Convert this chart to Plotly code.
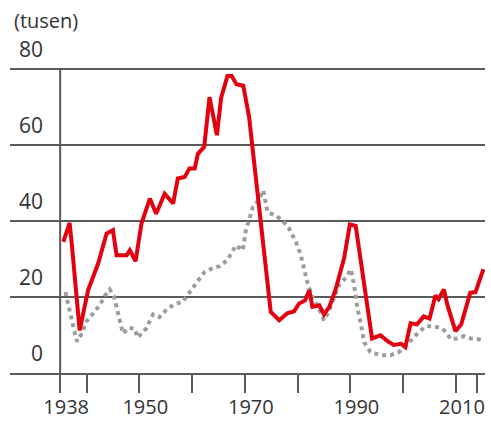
import plotly.graph_objects as go

# Red series (solid)
red_years = [1935.6, 1936.8, 1937.2, 1938.7, 1940.3, 1942.2, 1943.8, 1945.0, 1945.7, 1947.6,
             1948.2, 1949.3, 1950.4, 1952.0, 1953.2, 1954.8, 1956.4, 1957.3, 1958.6, 1959.5,
             1960.5, 1961.1, 1962.3, 1963.3, 1964.7, 1965.5, 1966.7, 1967.5, 1968.4, 1969.7,
             1970.8, 1974.9, 1976.5, 1978.1, 1979.3, 1980.3, 1981.4, 1982.2, 1982.8, 1984.1,
             1985.0, 1986.0, 1987.2, 1988.8, 1989.9, 1991.0, 1994.1, 1995.7, 1997.1, 1998.2,
             1999.6, 2000.4, 2001.4, 2002.6, 2003.9, 2005.0, 2006.1, 2006.7, 2007.7, 2008.4,
             2009.9, 2011.0, 2012.7, 2013.7, 2015.2]
red_values = [34.5, 39.5, 34.1, 11.2, 21.8, 28.8, 36.7, 37.6, 31.0, 31.0,
              32.3, 29.4, 39.3, 45.9, 41.9, 47.2, 44.6, 51.2, 51.6, 53.8,
              53.8, 57.7, 59.5, 72.6, 62.6, 72.4, 78.2, 78.2, 76.0, 75.6,
              67.4, 16.1, 13.9, 15.8, 16.2, 18.3, 19.1, 21.8, 17.4, 17.8,
              15.4, 17.4, 22.0, 30.2, 39.1, 38.7, 9.1, 9.9, 8.3, 7.4,
              7.7, 6.8, 13.1, 12.8, 14.9, 14.3, 20.4, 19.4, 22.0, 17.8,
              11.0, 12.8, 21.1, 21.3, 27.3]

# Grey series (dotted)
grey_years = [1936.0, 1936.8, 1937.2, 1937.8, 1938.2, 1939.1, 1940.0, 1941.4, 1942.5, 1943.5,
              1944.4, 1945.2, 1945.7, 1946.3, 1946.9, 1948.0, 1949.1, 1949.7, 1951.3, 1952.6,
              1953.8, 1955.3, 1957.0, 1958.2, 1959.5, 1960.8, 1962.3, 1963.9, 1965.2, 1966.7,
              1968.3, 1969.6, 1970.2, 1971.5, 1972.7, 1973.5, 1974.3, 1975.9, 1977.1, 1978.4,
              1979.7, 1980.6, 1981.2, 1981.9, 1982.8, 1984.1, 1985.0, 1986.0, 1987.0, 1987.9,
              1989.2, 1990.1, 1990.7, 1991.3, 1992.0, 1992.6, 1993.8, 1995.7, 1997.6, 1999.2,
              2000.4, 2001.7, 2002.9, 2004.3, 2005.8, 2007.4, 2008.3, 2009.0, 2010.2, 2011.5,
              2012.8, 2014.3, 2015.0]
grey_values = [21.3, 16.2, 13.3, 10.4, 8.3, 10.4, 13.6, 16.1, 17.8, 20.4,
               22.0, 20.2, 17.3, 13.0, 10.4, 11.9, 11.7, 9.3, 11.7, 15.4,
               14.7, 16.9, 18.3, 18.7, 21.2, 23.5, 26.5, 27.6, 28.1, 29.7,
               33.6, 32.3, 37.6, 43.6, 45.7, 48.1, 42.3, 41.4, 40.2, 38.0,
               34.4, 31.0, 27.0, 23.5, 20.0, 16.8, 13.9, 16.5, 20.2, 23.3,
               25.2, 27.3, 23.1, 17.3, 12.8, 8.1, 5.5, 4.7, 4.7, 5.5,
               7.0, 8.9, 10.7, 12.3, 12.3, 11.7, 10.4, 8.9, 9.1, 9.7,
               9.1, 8.9, 8.6]

x_tick_vals = [1935, 1940, 1950, 1960, 1970, 1980, 1990, 2000, 2010, 2014]
x_tick_text = ["1938", "", "1950", "", "1970", "", "1990", "", "2010", ""]
y_tick_vals = [0, 20, 40, 60, 80]
y_tick_text = ["0", "20", "40", "60", "80"]
unit_label = "(tusen)"

AXIS_COL = "#5a5a5a"
TEXT_COL = "#333333"
FONT = "Open Sans"

fig = go.Figure()
fig.add_trace(go.Scatter(x=grey_years, y=grey_values, mode="lines",
                         line=dict(color="#9d9d9d", width=4, dash="dot"),
                         hoverinfo="skip", showlegend=False))
fig.add_trace(go.Scatter(x=red_years, y=red_values, mode="lines",
                         line=dict(color="#e3000f", width=4),
                         hoverinfo="skip", showlegend=False))

x0 = 1925.5
x1 = 2015.5
fig.update_layout(
    width=491, height=421,
    margin=dict(l=10, r=6, t=66, b=48, autoexpand=False),
    paper_bgcolor="white", plot_bgcolor="white",
    font=dict(family=FONT, size=20, color=TEXT_COL),
    xaxis=dict(range=[x0, x1], showgrid=False, zeroline=False, automargin=False,
               showline=True, linecolor=AXIS_COL, linewidth=2,
               tickmode="array", tickvals=x_tick_vals, ticktext=x_tick_text,
               ticks="outside", ticklen=18, tickwidth=2, tickcolor=AXIS_COL,
               ticklabelshift=6, ticklabelstandoff=-3,
               tickfont=dict(family=FONT, size=20, color=TEXT_COL)),
    yaxis=dict(range=[0, 80.8], showgrid=True, gridcolor=AXIS_COL, gridwidth=2,
               zeroline=False, showline=False, automargin=False,
               anchor="free", position=(x_tick_vals[0] - x0) / (x1 - x0),
               tickmode="array", tickvals=y_tick_vals, ticktext=y_tick_text,
               ticks="", ticklabelshift=-19, ticklabelstandoff=17,
               tickfont=dict(family=FONT, size=21, color=TEXT_COL)),
)
fig.add_shape(type="line", xref="x", yref="y",
              x0=x_tick_vals[0], x1=x_tick_vals[0], y0=y_tick_vals[0], y1=y_tick_vals[-1],
              line=dict(color=AXIS_COL, width=2))
fig.add_annotation(text=unit_label, xref="paper", yref="paper",
                   x=0.005, y=1 + 45 / 307, xanchor="left", yanchor="middle",
                   showarrow=False, font=dict(family=FONT, size=20, color=TEXT_COL))

fig.write_html("out.html", config={"displayModeBar": False},
               post_script="document.body.style.margin='0';")
